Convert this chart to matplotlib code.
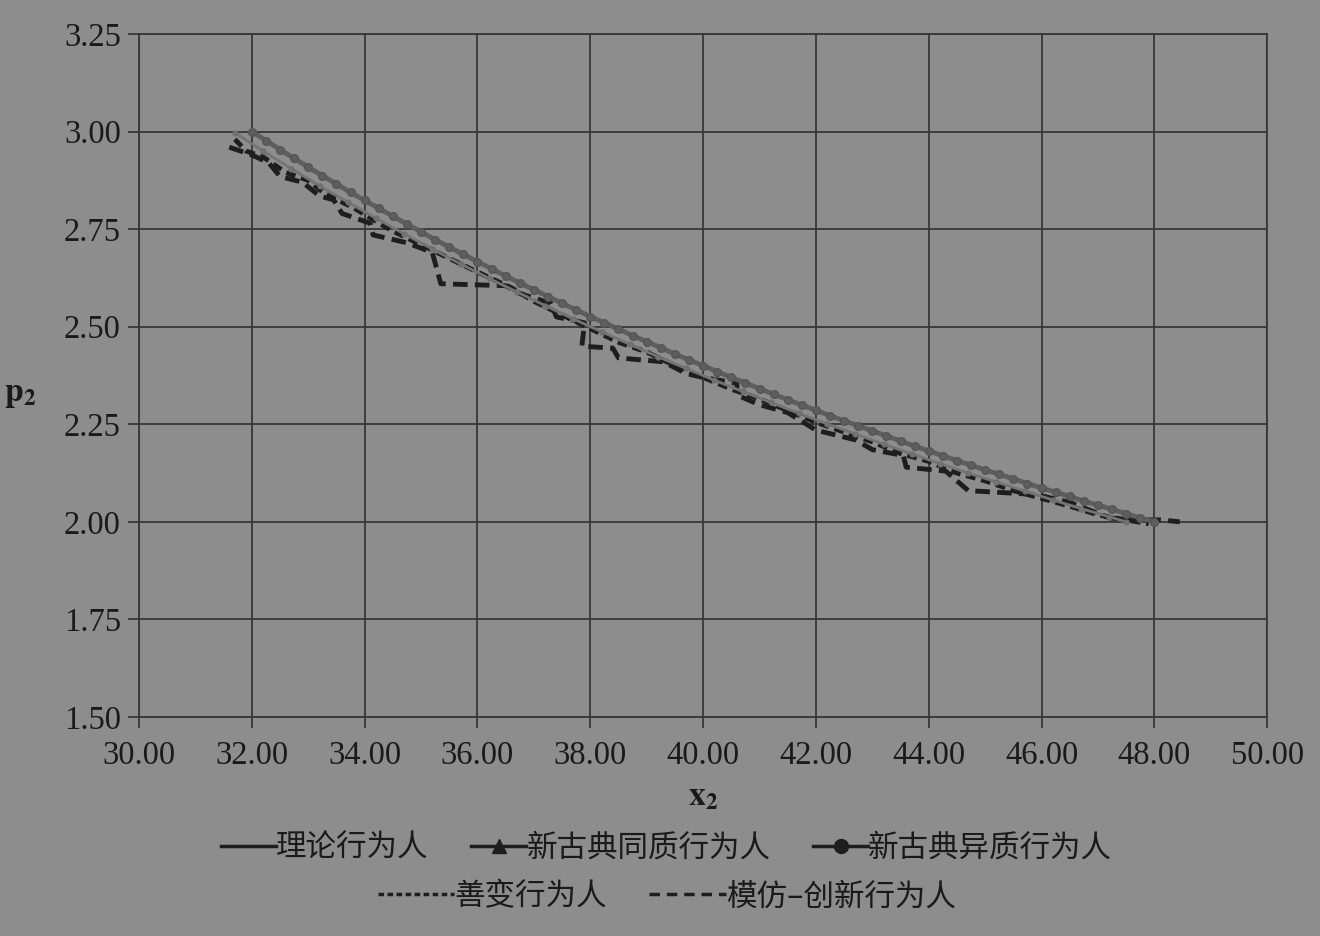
import matplotlib
matplotlib.use('Agg')
import matplotlib.pyplot as plt
from matplotlib.lines import Line2D

# 理论行为人 / 新古典同质行为人
theory_x = [32.00, 32.25, 32.50, 32.75, 33.00, 33.25, 33.50, 33.75, 34.00, 34.25,
            34.50, 34.75, 35.00, 35.25, 35.50, 35.75, 36.00, 36.25, 36.50, 36.75,
            37.00, 37.25, 37.50, 37.75, 38.00, 38.25, 38.50, 38.75, 39.00, 39.25,
            39.50, 39.75, 40.00, 40.25, 40.50, 40.75, 41.00, 41.25, 41.50, 41.75,
            42.00, 42.25, 42.50, 42.75, 43.00, 43.25, 43.50, 43.75, 44.00, 44.25,
            44.50, 44.75, 45.00, 45.25, 45.50, 45.75, 46.00, 46.25, 46.50, 46.75,
            47.00, 47.25, 47.50, 47.75, 48.00]
theory_p = [3.000, 2.977, 2.954, 2.931, 2.909, 2.887, 2.866, 2.844, 2.824, 2.803,
            2.783, 2.763, 2.743, 2.723, 2.704, 2.685, 2.667, 2.648, 2.630, 2.612,
            2.595, 2.577, 2.560, 2.543, 2.526, 2.510, 2.494, 2.477, 2.462, 2.446,
            2.430, 2.415, 2.400, 2.385, 2.370, 2.356, 2.341, 2.327, 2.313, 2.299,
            2.286, 2.272, 2.259, 2.246, 2.233, 2.220, 2.207, 2.194, 2.182, 2.169,
            2.157, 2.145, 2.133, 2.122, 2.110, 2.098, 2.087, 2.076, 2.065, 2.053,
            2.043, 2.032, 2.021, 2.010, 2.000]

# 新古典异质行为人
hetero_x = [31.7, 32.2, 32.7, 33.2, 33.7, 34.2, 34.7, 35.2, 35.7, 36.2, 36.7,
            37.2, 37.7, 38.2, 38.7, 39.2, 39.7, 40.2, 40.7, 41.2, 41.7, 42.2,
            42.7, 43.2, 43.7, 44.2, 44.7, 45.2, 45.7, 46.2, 46.7, 47.2, 47.5]
hetero_p = [2.997, 2.950, 2.905, 2.861, 2.819, 2.778, 2.738, 2.699, 2.661, 2.624, 2.589,
            2.554, 2.520, 2.487, 2.455, 2.423, 2.393, 2.363, 2.334, 2.306, 2.278, 2.251,
            2.225, 2.199, 2.174, 2.149, 2.125, 2.102, 2.079, 2.056, 2.034, 2.013, 2.000]

# 善变行为人
fickle_x = [31.7, 31.9, 32.2, 32.6, 33.0, 33.3, 33.8, 34.2, 34.5, 35.0, 35.5, 36.0,
            36.6, 37.0, 37.5, 38.0, 38.5, 39.0, 39.5, 40.0, 40.5, 41.0, 41.5, 42.0,
            42.5, 43.0, 43.5, 44.0, 44.5, 45.0, 45.5, 46.0, 46.5, 47.0, 47.5, 47.9]
fickle_p = [2.98, 2.95, 2.935, 2.895, 2.875, 2.84, 2.805, 2.77, 2.745, 2.71, 2.675, 2.64,
            2.60, 2.565, 2.53, 2.495, 2.46, 2.435, 2.40, 2.37, 2.34, 2.315, 2.285, 2.255,
            2.23, 2.205, 2.175, 2.155, 2.125, 2.105, 2.08, 2.06, 2.04, 2.018, 2.005, 1.995]

# 模仿-创新行为人
imit_x = [31.6, 32.0, 32.3, 32.5, 32.9, 33.2, 33.45, 33.6, 34.1, 34.15, 34.6, 34.75,
          35.2, 35.35, 36.5, 36.75, 37.3, 37.4, 37.9, 37.85, 38.4, 38.5, 39.3, 39.7,
          40.0, 40.6, 40.6, 41.0, 41.5, 42.0, 42.7, 43.0, 43.55, 43.6, 44.3, 44.7,
          45.9, 46.5, 47.2, 47.6, 48.1, 48.45]
imit_p = [2.96, 2.94, 2.92, 2.885, 2.87, 2.835, 2.825, 2.79, 2.765, 2.735, 2.72, 2.715,
          2.69, 2.61, 2.605, 2.585, 2.56, 2.525, 2.51, 2.45, 2.445, 2.42, 2.41, 2.38,
          2.37, 2.355, 2.325, 2.30, 2.28, 2.235, 2.21, 2.185, 2.17, 2.14, 2.13, 2.08,
          2.07, 2.05, 2.01, 2.005, 2.005, 2.00]

labels = ['理论行为人', '新古典同质行为人', '新古典异质行为人', '善变行为人', '模仿–创新行为人']

bg = '#8d8d8d'
plt.rcParams['mathtext.fontset'] = 'stix'

fig = plt.figure(figsize=(13.2, 9.36), dpi=100, facecolor=bg)
ax = fig.add_axes([0.1053, 0.234, 0.8547, 0.7297], facecolor=bg)

ax.plot(imit_x, imit_p, color='#1e1e1e', lw=3.5, dashes=(3.0, 1.5), zorder=3)
ax.plot(fickle_x, fickle_p, color='#1e1e1e', lw=3.5, dashes=(2.0, 1.2), zorder=3)
ax.plot(hetero_x, hetero_p, color='#747474', lw=2, marker='o', ms=3.5,
        markeredgecolor='#6e6e6e', zorder=4)
ax.plot(theory_x, theory_p, color='#2a2a2a', lw=1.5, zorder=4)
ax.plot(theory_x, theory_p, color='#5e5e5e', lw=3.5, marker='o', ms=5.5,
        markeredgecolor='#555555', zorder=5)

ax.set_xlim(30, 50)
ax.set_ylim(1.5, 3.25)
ax.set_xticks([30 + 2 * i for i in range(11)])
ax.set_yticks([1.5 + 0.25 * i for i in range(8)])
ax.set_xticklabels(['%.2f' % t for t in ax.get_xticks()])
ax.set_yticklabels(['%.2f' % t for t in ax.get_yticks()])
ax.grid(True, color='#373737', lw=1.3)
ax.set_axisbelow(True)
for s in ax.spines.values():
    s.set_color('#373737')
    s.set_linewidth(1.3)
ax.tick_params(direction='out', length=8, width=1.3, color='#373737',
               labelsize=23.5, labelcolor='#1a1a1a', pad=5)
ax.tick_params(axis='x', pad=9)
for t in ax.get_xticklabels() + ax.get_yticklabels():
    t.set_family(['Liberation Serif', 'DejaVu Serif'])

ax.set_xlabel(r'$\mathbf{x}_{\mathbf{2}}$', fontsize=24, color='#1a1a1a', labelpad=6)
ax.set_ylabel(r'$\mathbf{p}_{\mathbf{2}}$', fontsize=24, color='#1a1a1a',
              rotation=0, labelpad=0)
ax.yaxis.set_label_coords(-0.105, 0.45)

cjk = ['Noto Sans CJK SC', 'DejaVu Sans']
h1 = [Line2D([], [], color='#1e1e1e', lw=2.5),
      Line2D([], [], color='#1e1e1e', lw=2.5, marker='^', ms=10),
      Line2D([], [], color='#1e1e1e', lw=2.5, marker='o', ms=10)]
h2 = [Line2D([], [], color='#1e1e1e', lw=2.5, dashes=(1.6, 1.0)),
      Line2D([], [], color='#1e1e1e', lw=2.5, dashes=(3.0, 2.0))]
leg1 = fig.legend(h1, labels[:3], loc='center', bbox_to_anchor=(0.505, 0.094), ncol=3,
                  frameon=False, handlelength=1.8, handletextpad=0.0, columnspacing=1.4,
                  prop={'family': cjk, 'size': 22})
leg2 = fig.legend(h2, labels[3:], loc='center', bbox_to_anchor=(0.505, 0.042), ncol=2,
                  frameon=False, handlelength=2.5, handletextpad=0.0, columnspacing=1.4,
                  prop={'family': cjk, 'size': 22})
for lg in (leg1, leg2):
    for t in lg.get_texts():
        t.set_color('#1a1a1a')

plt.savefig('out.png', dpi=100, facecolor=bg)
